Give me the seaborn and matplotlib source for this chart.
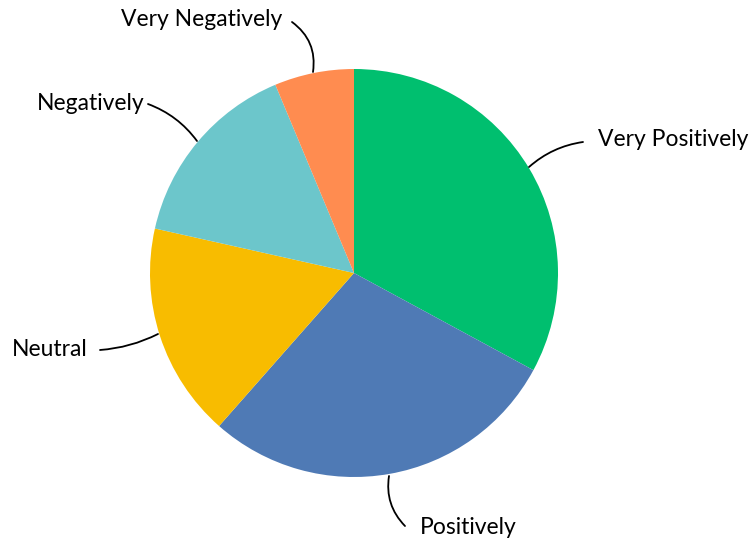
import matplotlib
matplotlib.use('Agg')
import matplotlib.pyplot as plt
import seaborn as sns

sns.set_theme(style='white')
plt.rcParams['font.family'] = ['Lato', 'DejaVu Sans']

# 各类回答的占比（顺时针，从12点方向开始）
labels = ['Very Positively', 'Positively', 'Neutral', 'Negatively', 'Very Negatively']
values = [32.9, 28.6, 17.0, 15.2, 6.3]
colors = ['#00BF6F', '#4F7AB5', '#F8BC00', '#6CC6CB', '#FF8C50']

H = 543
fig = plt.figure(figsize=(7.54, 5.43), dpi=100)
ax = fig.add_axes([0, 0, 1, 1])

cx, cy, r = 354, H - 273, 204
wedges, _ = ax.pie(values, colors=colors, startangle=90, counterclock=False,
                   center=(cx, cy), radius=r, frame=True,
                   wedgeprops={'linewidth': 0})
ax.set_xlim(0, 754)
ax.set_ylim(0, H)
ax.set_aspect('equal')
ax.axis('off')

# 标签与引线：(文字位置, 引线终点, 弧度)
lab_pos = {
    'Very Positively': ((598, H - 140), (529, H - 167), 0.15),
    'Positively': ((420, H - 527), (389, H - 476), -0.25),
    'Neutral': ((12, H - 350), (158, H - 334), 0.1),
    'Negatively': ((37, H - 103), (197, H - 141), -0.15),
    'Very Negatively': ((121, H - 20), (313, H - 72), -0.3),
}
text_end = {
    'Very Positively': (583, H - 142),
    'Positively': (405, H - 526),
    'Neutral': (100, H - 350),
    'Negatively': (148, H - 104),
    'Very Negatively': (292, H - 22),
}
for lab in labels:
    tpos, edge, rad = lab_pos[lab]
    ax.text(tpos[0], tpos[1], lab, ha='left', va='center', fontsize=16.5, color='black')
    ax.annotate('', xy=edge, xytext=text_end[lab],
                arrowprops=dict(arrowstyle='-', color='black', lw=1.3,
                                connectionstyle='arc3,rad=%s' % rad,
                                shrinkA=0, shrinkB=0))

fig.savefig('out.png', dpi=100)
